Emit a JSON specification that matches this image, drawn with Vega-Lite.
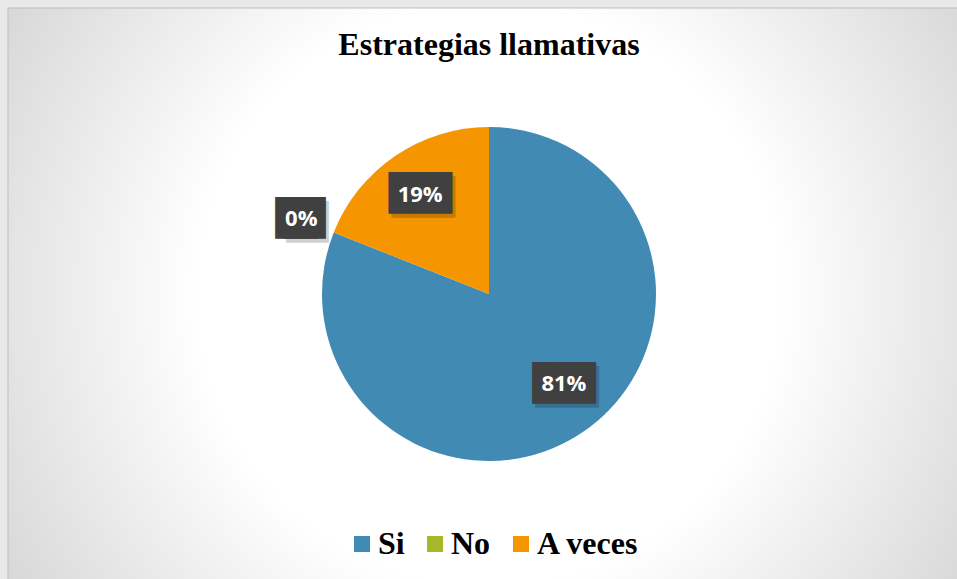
{
  "$schema": "https://vega.github.io/schema/vega-lite/v6.json",
  "width": 962,
  "height": 572,
  "autosize": {"type": "none"},
  "padding": {"left": 8, "top": 8, "right": 0, "bottom": 0},
  "background": "#e9e9e9",
  "title": {
    "text": "Estrategias llamativas",
    "font": "Liberation Serif",
    "fontSize": 32,
    "fontWeight": "bold",
    "color": "#000000",
    "anchor": "middle",
    "baseline": "alphabetic",
    "offset": -79
  },
  "config": {
    "view": {"stroke": null},
    "legend": {"labelFont": "Liberation Serif", "labelFontSize": 32, "labelFontWeight": "bold", "labelColor": "#000000"}
  },
  "data": {
    "values": [
      {"respuesta": "Si", "value": 81, "label": "81%", "orden": 1},
      {"respuesta": "No", "value": 0, "label": "0%", "orden": 2},
      {"respuesta": "A veces", "value": 19, "label": "19%", "orden": 3}
    ]
  },
  "layer": [
    {
      "data": {"values": [{}]},
      "mark": {
        "type": "rect",
        "stroke": "#bdbdbd",
        "strokeWidth": 1,
        "fill": {
          "gradient": "radial",
          "x1": 0.5, "y1": 0.5, "r1": 0,
          "x2": 0.5, "y2": 0.5, "r2": 0.72,
          "stops": [
            {"offset": 0, "color": "#ffffff"},
            {"offset": 0.42, "color": "#ffffff"},
            {"offset": 1, "color": "#c4c4c4"}
          ]
        }
      },
      "encoding": {}
    },
    {
      "mark": {"type": "arc", "radius": 167},
      "encoding": {
        "theta": {"field": "value", "type": "quantitative", "stack": true},
        "order": {"field": "orden", "type": "quantitative"},
        "color": {
          "field": "respuesta",
          "type": "nominal",
          "sort": ["Si", "No", "A veces"],
          "scale": {"domain": ["Si", "No", "A veces"], "range": ["#418AB3", "#A6B727", "#F59500"]},
          "legend": {
            "title": null,
            "orient": "none",
            "direction": "horizontal",
            "legendX": 338,
            "legendY": 520,
            "symbolType": "square",
            "symbolSize": 256,
            "symbolStrokeWidth": 0,
            "symbolOpacity": 1,
            "labelFont": "Liberation Serif",
            "labelFontSize": 32,
            "labelFontWeight": "bold",
            "labelColor": "#000000",
            "labelOffset": 0,
            "columnPadding": 14,
            "padding": 0
          }
        }
      }
    },
    {
      "mark": {"type": "text", "radius": 119, "font": "DejaVu Sans Mono", "fontSize": 35, "color": "#000000", "opacity": 0.18, "dx": 11, "dy": -4, "baseline": "middle"},
      "encoding": {
        "theta": {"field": "value", "type": "quantitative", "stack": true},
        "order": {"field": "orden", "type": "quantitative"},
        "text": {"condition": {"test": "datum.respuesta == 'Si'", "value": "███"}, "value": ""}
      }
    },
    {
      "mark": {"type": "text", "radius": 119, "font": "DejaVu Sans Mono", "fontSize": 35, "color": "#404040", "dx": 8, "dy": -8, "baseline": "middle"},
      "encoding": {
        "theta": {"field": "value", "type": "quantitative", "stack": true},
        "order": {"field": "orden", "type": "quantitative"},
        "text": {"condition": {"test": "datum.respuesta == 'Si'", "value": "███"}, "value": ""}
      }
    },
    {
      "mark": {"type": "text", "radius": 119, "font": "Open Sans", "fontSize": 22, "fontWeight": "bold", "color": "#ffffff", "dx": 8, "dy": -8, "baseline": "middle"},
      "encoding": {
        "theta": {"field": "value", "type": "quantitative", "stack": true},
        "order": {"field": "orden", "type": "quantitative"},
        "text": {"condition": {"test": "datum.respuesta == 'Si'", "field": "label"}, "value": ""}
      }
    },
    {
      "mark": {"type": "text", "radius": 119, "font": "DejaVu Sans Mono", "fontSize": 35, "color": "#000000", "opacity": 0.18, "dx": 1, "dy": 2, "baseline": "middle"},
      "encoding": {
        "theta": {"field": "value", "type": "quantitative", "stack": true},
        "order": {"field": "orden", "type": "quantitative"},
        "text": {"condition": {"test": "datum.respuesta == 'A veces'", "value": "███"}, "value": ""}
      }
    },
    {
      "mark": {"type": "text", "radius": 119, "font": "DejaVu Sans Mono", "fontSize": 35, "color": "#404040", "dx": -2, "dy": -2, "baseline": "middle"},
      "encoding": {
        "theta": {"field": "value", "type": "quantitative", "stack": true},
        "order": {"field": "orden", "type": "quantitative"},
        "text": {"condition": {"test": "datum.respuesta == 'A veces'", "value": "███"}, "value": ""}
      }
    },
    {
      "mark": {"type": "text", "radius": 119, "font": "Open Sans", "fontSize": 22, "fontWeight": "bold", "color": "#ffffff", "dx": -2, "dy": -1, "baseline": "middle"},
      "encoding": {
        "theta": {"field": "value", "type": "quantitative", "stack": true},
        "order": {"field": "orden", "type": "quantitative"},
        "text": {"condition": {"test": "datum.respuesta == 'A veces'", "field": "label"}, "value": ""}
      }
    },
    {
      "mark": {"type": "text", "radius": 203, "font": "DejaVu Sans Mono", "fontSize": 35, "color": "#000000", "opacity": 0.18, "dx": 7, "dy": 4, "baseline": "middle"},
      "encoding": {
        "theta": {"field": "value", "type": "quantitative", "stack": true},
        "order": {"field": "orden", "type": "quantitative"},
        "text": {"condition": {"test": "datum.respuesta == 'No'", "value": "██"}, "value": ""}
      }
    },
    {
      "mark": {"type": "text", "radius": 203, "font": "DejaVu Sans Mono", "fontSize": 35, "color": "#404040", "dx": -4, "dy": 0, "baseline": "middle"},
      "encoding": {
        "theta": {"field": "value", "type": "quantitative", "stack": true},
        "order": {"field": "orden", "type": "quantitative"},
        "text": {"condition": {"test": "datum.respuesta == 'No'", "value": "██"}, "value": ""}
      }
    },
    {
      "mark": {"type": "text", "radius": 203, "font": "DejaVu Sans Mono", "fontSize": 35, "color": "#404040", "dx": 4, "dy": 0, "baseline": "middle"},
      "encoding": {
        "theta": {"field": "value", "type": "quantitative", "stack": true},
        "order": {"field": "orden", "type": "quantitative"},
        "text": {"condition": {"test": "datum.respuesta == 'No'", "value": "██"}, "value": ""}
      }
    },
    {
      "mark": {"type": "text", "radius": 203, "font": "Open Sans", "fontSize": 22, "fontWeight": "bold", "color": "#ffffff", "dx": 1, "dy": 0, "baseline": "middle"},
      "encoding": {
        "theta": {"field": "value", "type": "quantitative", "stack": true},
        "order": {"field": "orden", "type": "quantitative"},
        "text": {"condition": {"test": "datum.respuesta == 'No'", "field": "label"}, "value": ""}
      }
    }
  ]
}
